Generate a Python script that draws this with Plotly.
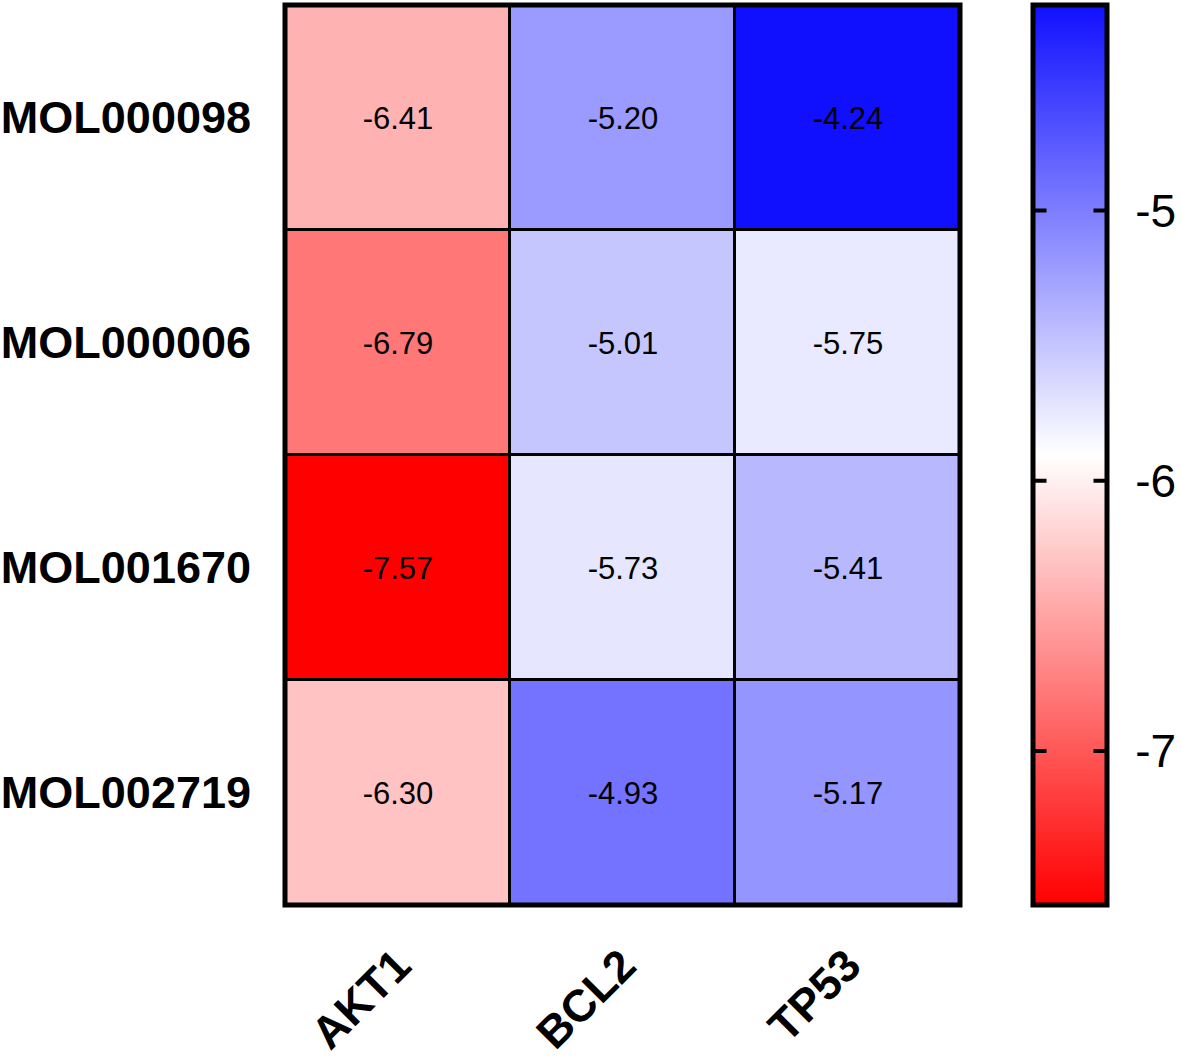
import plotly.graph_objects as go

targets = ["AKT1", "BCL2", "TP53"]
molecules = ["MOL000098", "MOL000006", "MOL001670", "MOL002719"]

# docking scores printed in the cells
labels = [
    [-6.41, -5.20, -4.24],
    [-6.79, -5.01, -5.75],
    [-7.57, -5.73, -5.41],
    [-6.30, -4.93, -5.17],
]
# values the shading encodes (the BCL2 / MOL000006 cell is shaded lighter than its label)
shade = [
    [-6.41, -5.20, -4.24],
    [-6.79, -5.51, -5.75],
    [-7.57, -5.73, -5.41],
    [-6.30, -4.93, -5.17],
]
cbar_ticks = [-5, -6, -7]

zmin, zmax = -7.57, -4.24
W, H = 1181, 1058
L, R, T, B = 285, 221, 5, 153
plot_w = W - L - R
FONT = "Arial, Liberation Sans, Helvetica, sans-serif"

cb_x = (1033 - L) / plot_w
cb_th = 74

text = [[f"{v:.2f}" for v in row] for row in labels]

fig = go.Figure(go.Heatmap(
    z=shade, x=targets, y=molecules,
    text=text, texttemplate="%{text}",
    textfont=dict(family=FONT, size=31, color="black"),
    zmin=zmin, zmax=zmax,
    colorscale=[[0, "#FF0000"], [0.5, "#FFFFFF"], [1, "#1010FF"]],
    xgap=3, ygap=3,
    colorbar=dict(
        x=cb_x, xanchor="left", y=0.5, yanchor="middle",
        len=1, lenmode="fraction", thickness=cb_th,
        xpad=0, ypad=0,
        outlinewidth=5, outlinecolor="black",
        tickvals=cbar_ticks, ticktext=[str(t) for t in cbar_ticks],
        ticks="outside", ticklen=17, tickcolor="rgba(0,0,0,0)", tickwidth=1,
        tickfont=dict(family=FONT, size=46, color="black"),
    ),
))

# short ticks inside both edges of the colour bar
for v in cbar_ticks:
    yp = (v - zmin) / (zmax - zmin)
    for xp, off in [(cb_x, 15), (cb_x + cb_th / plot_w, -15)]:
        fig.add_annotation(xref="paper", yref="paper", x=xp, y=yp, text="",
                           showarrow=True, arrowhead=0, arrowwidth=4,
                           arrowcolor="black", ax=off, ay=0, standoff=0)

# heavy frame around the heatmap
fig.add_shape(type="rect", xref="paper", yref="paper", x0=0, x1=1, y0=0, y1=1,
              line=dict(color="black", width=5))

fig.update_layout(
    width=W, height=H,
    margin=dict(l=L, r=R, t=T, b=B, autoexpand=False),
    paper_bgcolor="white", plot_bgcolor="black",
    font=dict(family=FONT, color="black"),
    xaxis=dict(showgrid=False, zeroline=False, tickangle=-45,
               ticklabelstandoff=24,
               tickfont=dict(family=FONT, size=45, color="black", weight="bold")),
    yaxis=dict(showgrid=False, zeroline=False, autorange="reversed",
               ticklabelstandoff=33,
               tickfont=dict(family=FONT, size=45, color="black", weight="bold")),
)

fig.write_html("out.html", config={"displayModeBar": False},
               post_script="document.body.style.margin='0px';")
